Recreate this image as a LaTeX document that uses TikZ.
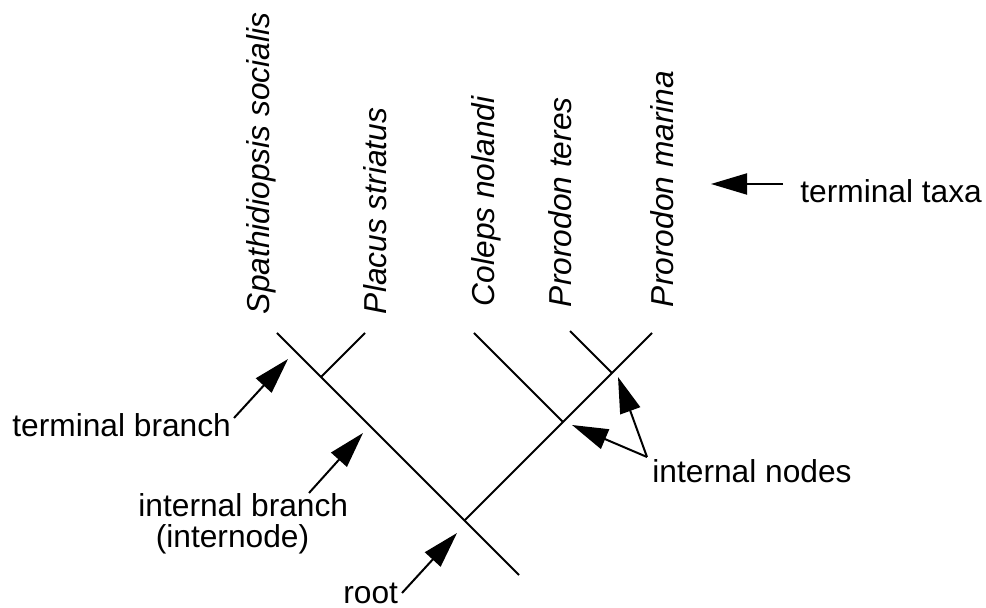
\documentclass[tikz,border=0pt]{standalone}
\usepackage{fontspec}
\setmainfont{Liberation Sans}
\usetikzlibrary{arrows.meta}
\tikzset{
  % text size for every label
  every node/.append style={font=\fontsize{15.85}{15.5}\selectfont, inner sep=0pt},
  % taxon names, read bottom to top
  taxon/.style={rotate=90, anchor=base west, font=\fontsize{15.85}{15.5}\selectfont\itshape},
  % plain labels
  lab/.style={anchor=base west},
  % tree lines
  branch/.style={line width=1pt},
  % pointing arrows
  pointer/.style={-{Triangle[length=18pt, width=10.5pt]}, line width=1pt},
}

\begin{document}
\begin{tikzpicture}[x=0.5pt, y=-0.5pt]
  \useasboundingbox (0,0) rectangle (986,608);

  % tips, internal nodes and root
  \coordinate (sp) at (277,333);
  \coordinate (pl) at (365,333);
  \coordinate (co) at (474,333);
  \coordinate (pt) at (570,331);
  \coordinate (pm) at (652,333);
  \coordinate (nsp) at (321,377);
  \coordinate (nco) at (563,422);
  \coordinate (npt) at (612,373);
  \coordinate (root) at (464.5,520.5);
  \coordinate (base) at (519,575);

  % branches
  \draw[branch] (sp) -- (nsp) -- (root) -- (base);
  \draw[branch] (pl) -- (nsp);
  \draw[branch] (pm) -- (npt) -- (nco) -- (root);
  \draw[branch] (co) -- (nco);
  \draw[branch] (pt) -- (npt);

  % terminal taxa
  \node[taxon] (tsp) at (269,314.5) {Spathidiopsis socialis};
  \node[taxon] (tpl) at (386,314.5) {Placus striatus};
  \node[taxon] (tco) at (494,306.5) {Coleps nolandi};
  \node[taxon] (tpt) at (571.5,307.5) {Prorodon teres};
  \node[taxon] (tpm) at (673,307.5) {Prorodon marina};

  % labels
  \node[lab] (ltaxa) at (800,203) {terminal taxa};
  \node[lab] (lterm) at (12,437) {terminal branch};
  \node[lab, align=left] (linter) at (138,548) {internal branch\\\hspace*{0.55em}(internode)};
  \node[lab] (lnodes) at (652,483) {internal nodes};
  \node[lab] (lroot) at (343,604) {root};

  % arrow ends
  \coordinate (ataxa) at (783,184);
  \coordinate (htaxa) at (711,184);
  \coordinate (aterm) at (234,418);
  \coordinate (hterm) at (288,359);
  \coordinate (ainter) at (309,493);
  \coordinate (hinter) at (363,433);
  \coordinate (aroot) at (402,593);
  \coordinate (hroot) at (457,533);
  \coordinate (anodes) at (647,457);
  \coordinate (hnpt) at (618,377);
  \coordinate (hnco) at (572,425);

  % arrows
  \draw[pointer] (ataxa) -- (htaxa);
  \draw[pointer] (aterm) -- (hterm);
  \draw[pointer] (ainter) -- (hinter);
  \draw[pointer] (aroot) -- (hroot);
  \draw[pointer] (anodes) -- (hnpt);
  \draw[pointer] (anodes) -- (hnco);
\end{tikzpicture}
\end{document}
